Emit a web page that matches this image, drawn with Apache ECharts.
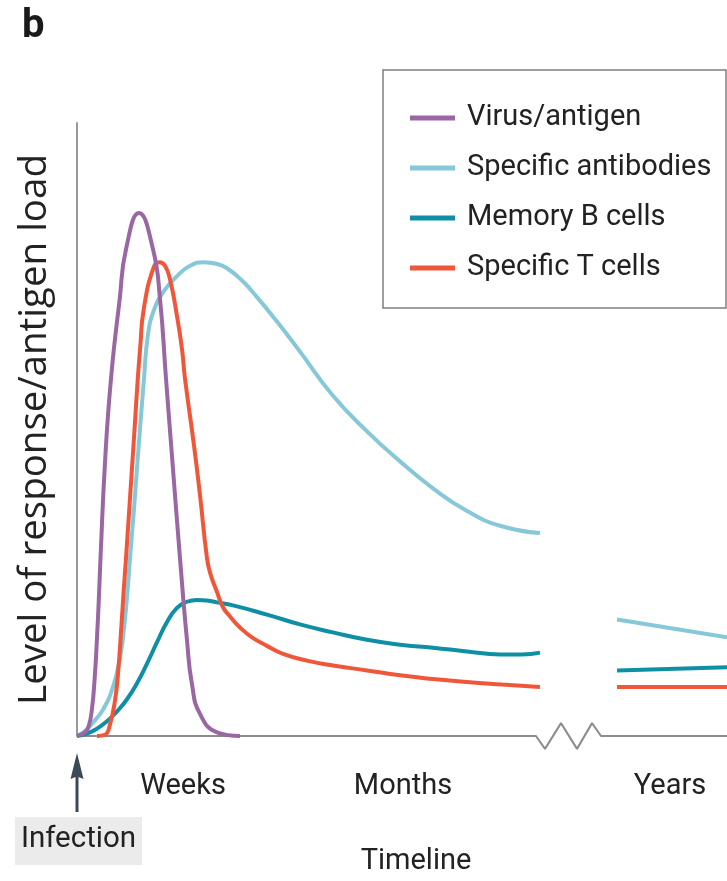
<!DOCTYPE html>
<html>
<head>
<meta charset="utf-8">
<script src="https://cdn.jsdelivr.net/npm/echarts@6/dist/echarts.min.js"></script>
<style>html,body{margin:0;padding:0;background:#fff}#c{width:727px;height:881px}</style>
</head>
<body>
<div id="c"></div>
<script>
// ---- data (x: arbitrary timeline units, y: relative level) ----
const seriesNames = ['Virus/antigen', 'Specific antibodies', 'Memory B cells', 'Specific T cells'];
const virus = [[0,0],[8,0.6],[12,1.8],[15,4.5],[17.5,9],[20,16],[22,23],[23.5,29],[28,44.6],[34,58.3],[42.7,71.3],[49,79.4],[62,85.3],[76,79.4],[83,71.3],[89,58.3],[95.5,44.6],[103,29],[110,15.6],[115,8.4],[123,3.6],[140,0.6],[163,0]];
const antibodies = [[0,0],[8,0.8],[16,2.2],[26,4.3],[36,8],[43,12.8],[46,16.1],[50,22.6],[53,29],[57,37],[60,43.7],[67,58.3],[71,65.5],[77,69.5],[87,72.6],[100,75],[113,76.7],[127,77.3],[140,77],[150,76.3],[165,74.3],[180,71.6],[200,67.6],[223,62.7],[256,55.5],[290,49.7],[323,44.8],[356,40.4],[390,36.7],[423,34.3],[463,33.1]];
const antibodiesYears = [[540,19],[650,16.1]];
const memoryB = [[0,0],[10,0.4],[20,1.2],[30,2.4],[40,4.0],[50,6.0],[60,8.6],[70,11.8],[80,15.3],[90,18.6],[100,20.9],[110,21.9],[120,22.2],[130,22.1],[140,21.8],[156,21.3],[190,19.8],[223,18.2],[256,16.9],[290,15.7],[323,14.9],[356,14.4],[390,13.8],[423,13.3],[445,13.3],[463,13.6]];
const memoryBYears = [[540,10.7],[650,11.2]];
const tCells = [[20,0],[28,0.2],[33,1.9],[38,5.8],[41,10.1],[44.5,18.2],[46.7,23.7],[49,29],[51,33.9],[54.3,42],[57.6,50.2],[60.8,58.3],[63.3,63.6],[66.7,69.6],[76.7,76.5],[82.7,77.3],[88,76.7],[93,74.5],[100,68.5],[105,63.1],[108,58.3],[117,47.4],[123,39.3],[130,29],[133.5,26.4],[140,23.5],[146,21],[153,19.5],[163,17.7],[175,16.1],[190,14.7],[206,13.4],[230,12.3],[256,11.5],[290,10.7],[323,9.9],[356,9.3],[390,8.8],[425,8.4],[463,8.0]];
const tCellsYears = [[540,8.0],[650,8.0]];
const baseline = [[0,0],[459,0],[468,-2.1],[484,2.1],[500,-2.1],[515,2.1],[524,0],[650,0]];
const tickLabels = ['Weeks', 'Months', 'Years'];
const tickValues = [106, 326, 593];

const colors = {
  'Virus/antigen': '#9a66a4',
  'Specific antibodies': '#86c8d8',
  'Memory B cells': '#0e8fa6',
  'Specific T cells': '#f0573a'
};
const condensed = "'Liberation Sans Narrow', Roboto, sans-serif";

function lineSeries(name, data) {
  return {
    name: name, type: 'line', data: data, smooth: 0.5, symbol: 'none',
    lineStyle: { color: colors[name], width: 4 },
    itemStyle: { color: colors[name] },
    clip: false
  };
}

const chart = echarts.init(document.getElementById('c'), null, { renderer: 'canvas' });
chart.setOption({
  animation: false,
  backgroundColor: '#ffffff',
  grid: { left: 77, right: 0, top: 123, bottom: 142, containLabel: false },
  xAxis: {
    type: 'value', min: 0, max: 650,
    axisLine: { show: false },
    axisTick: { show: false },
    splitLine: { show: false },
    axisLabel: {
      customValues: tickValues,
      formatter: function (v) { const i = tickValues.indexOf(v); return i >= 0 ? tickLabels[i] : ''; },
      margin: 36, fontSize: 29, color: '#222', fontFamily: condensed
    },
    name: 'Timeline', nameLocation: 'middle', nameGap: 111,
    nameTextStyle: { fontSize: 29, color: '#222', fontFamily: condensed, padding: [0, 0, 0, 28] }
  },
  yAxis: {
    type: 'value', min: 0, max: 100,
    axisLine: { show: true, lineStyle: { color: '#999', width: 2 } },
    axisTick: { show: false },
    axisLabel: { show: false },
    splitLine: { show: false },
    name: 'Level of response/antigen load', nameLocation: 'middle', nameGap: 22, nameRotate: 90,
    nameTextStyle: { fontSize: 38.5, color: '#222', fontFamily: "'Open Sans', sans-serif" }
  },
  legend: {
    data: seriesNames,
    orient: 'vertical', left: 405, top: 96,
    itemWidth: 45, itemHeight: 5, itemGap: 16, icon: 'rect',
    textStyle: { fontSize: 29, color: '#222', fontFamily: condensed, lineHeight: 34, padding: [0, 0, 0, 7] }
  },
  graphic: [
    { type: 'rect', shape: { x: 383, y: 70, width: 343, height: 238 }, style: { fill: 'none', stroke: '#7f7f7f', lineWidth: 1.5 }, silent: true },
    { type: 'text', left: 22, top: 7, style: { text: 'b', fontSize: 40, fontWeight: 'bold', fill: '#1a1a1a', fontFamily: condensed } },
    { type: 'rect', shape: { x: 15, y: 817, width: 127, height: 48 }, style: { fill: '#ebebeb' }, silent: true },
    { type: 'text', x: 78.5, y: 840, style: { text: 'Infection', fontSize: 29.5, fill: '#222', fontFamily: condensed, align: 'center', verticalAlign: 'middle' } },
    { type: 'polygon', shape: { points: [[77, 753], [70.5, 779], [75.5, 777], [75.5, 812], [78.5, 812], [78.5, 777], [83.5, 779]] }, style: { fill: '#3b4a56' }, silent: true }
  ],
  series: [
    { name: 'axisBase', type: 'line', data: baseline, symbol: 'none', smooth: false, clip: false, silent: true,
      lineStyle: { color: '#8c8c8c', width: 2 }, z: 1 },
    lineSeries('Specific antibodies', antibodies),
    lineSeries('Specific antibodies', antibodiesYears),
    lineSeries('Memory B cells', memoryB),
    lineSeries('Memory B cells', memoryBYears),
    lineSeries('Specific T cells', tCells),
    lineSeries('Specific T cells', tCellsYears),
    lineSeries('Virus/antigen', virus)
  ]
});
</script>
</body>
</html>
